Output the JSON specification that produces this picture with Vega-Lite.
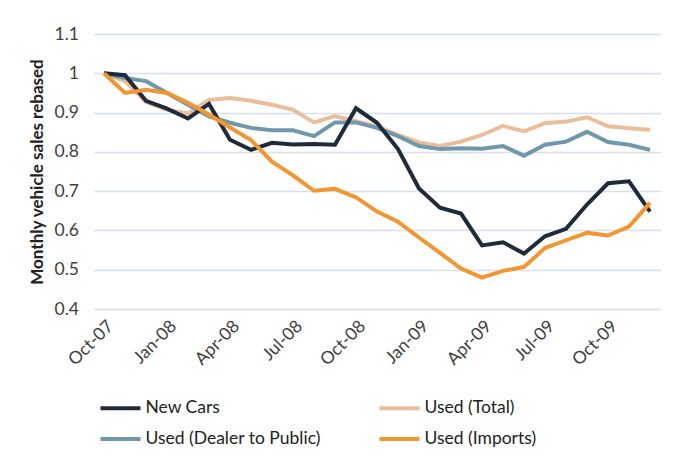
{
  "$schema": "https://vega.github.io/schema/vega-lite/v6.json",
  "width": 567,
  "height": 275,
  "autosize": "none",
  "padding": {"left": 93.5, "top": 34, "right": 16.5, "bottom": 157},
  "background": "white",
  "config": {
    "font": "Lato",
    "view": {"stroke": null}
  },
  "data": {
    "values": [
      {"m":"Oct-07","s":"Used (Total)","v":1.0},{"m":"Nov-07","s":"Used (Total)","v":0.98},{"m":"Dec-07","s":"Used (Total)","v":0.927},{"m":"Jan-08","s":"Used (Total)","v":0.907},{"m":"Feb-08","s":"Used (Total)","v":0.898},{"m":"Mar-08","s":"Used (Total)","v":0.932},{"m":"Apr-08","s":"Used (Total)","v":0.937},{"m":"May-08","s":"Used (Total)","v":0.93},{"m":"Jun-08","s":"Used (Total)","v":0.92},{"m":"Jul-08","s":"Used (Total)","v":0.907},{"m":"Aug-08","s":"Used (Total)","v":0.875},{"m":"Sep-08","s":"Used (Total)","v":0.891},{"m":"Oct-08","s":"Used (Total)","v":0.878},{"m":"Nov-08","s":"Used (Total)","v":0.865},{"m":"Dec-08","s":"Used (Total)","v":0.843},{"m":"Jan-09","s":"Used (Total)","v":0.824},{"m":"Feb-09","s":"Used (Total)","v":0.815},{"m":"Mar-09","s":"Used (Total)","v":0.826},{"m":"Apr-09","s":"Used (Total)","v":0.843},{"m":"May-09","s":"Used (Total)","v":0.866},{"m":"Jun-09","s":"Used (Total)","v":0.852},{"m":"Jul-09","s":"Used (Total)","v":0.873},{"m":"Aug-09","s":"Used (Total)","v":0.877},{"m":"Sep-09","s":"Used (Total)","v":0.888},{"m":"Oct-09","s":"Used (Total)","v":0.865},{"m":"Nov-09","s":"Used (Total)","v":0.86},{"m":"Dec-09","s":"Used (Total)","v":0.856},

      {"m":"Oct-07","s":"Used (Dealer to Public)","v":1.0},{"m":"Nov-07","s":"Used (Dealer to Public)","v":0.988},{"m":"Dec-07","s":"Used (Dealer to Public)","v":0.98},{"m":"Jan-08","s":"Used (Dealer to Public)","v":0.95},{"m":"Feb-08","s":"Used (Dealer to Public)","v":0.92},{"m":"Mar-08","s":"Used (Dealer to Public)","v":0.89},{"m":"Apr-08","s":"Used (Dealer to Public)","v":0.874},{"m":"May-08","s":"Used (Dealer to Public)","v":0.861},{"m":"Jun-08","s":"Used (Dealer to Public)","v":0.855},{"m":"Jul-08","s":"Used (Dealer to Public)","v":0.855},{"m":"Aug-08","s":"Used (Dealer to Public)","v":0.84},{"m":"Sep-08","s":"Used (Dealer to Public)","v":0.875},{"m":"Oct-08","s":"Used (Dealer to Public)","v":0.875},{"m":"Nov-08","s":"Used (Dealer to Public)","v":0.861},{"m":"Dec-08","s":"Used (Dealer to Public)","v":0.84},{"m":"Jan-09","s":"Used (Dealer to Public)","v":0.815},{"m":"Feb-09","s":"Used (Dealer to Public)","v":0.807},{"m":"Mar-09","s":"Used (Dealer to Public)","v":0.809},{"m":"Apr-09","s":"Used (Dealer to Public)","v":0.808},{"m":"May-09","s":"Used (Dealer to Public)","v":0.815},{"m":"Jun-09","s":"Used (Dealer to Public)","v":0.79},{"m":"Jul-09","s":"Used (Dealer to Public)","v":0.818},{"m":"Aug-09","s":"Used (Dealer to Public)","v":0.826},{"m":"Sep-09","s":"Used (Dealer to Public)","v":0.851},{"m":"Oct-09","s":"Used (Dealer to Public)","v":0.825},{"m":"Nov-09","s":"Used (Dealer to Public)","v":0.818},{"m":"Dec-09","s":"Used (Dealer to Public)","v":0.805},

      {"m":"Oct-07","s":"New Cars","v":1.0},{"m":"Nov-07","s":"New Cars","v":0.995},{"m":"Dec-07","s":"New Cars","v":0.93},{"m":"Jan-08","s":"New Cars","v":0.91},{"m":"Feb-08","s":"New Cars","v":0.885},{"m":"Mar-08","s":"New Cars","v":0.922},{"m":"Apr-08","s":"New Cars","v":0.831},{"m":"May-08","s":"New Cars","v":0.805},{"m":"Jun-08","s":"New Cars","v":0.823},{"m":"Jul-08","s":"New Cars","v":0.819},{"m":"Aug-08","s":"New Cars","v":0.82},{"m":"Sep-08","s":"New Cars","v":0.818},{"m":"Oct-08","s":"New Cars","v":0.911},{"m":"Nov-08","s":"New Cars","v":0.874},{"m":"Dec-08","s":"New Cars","v":0.807},{"m":"Jan-09","s":"New Cars","v":0.707},{"m":"Feb-09","s":"New Cars","v":0.658},{"m":"Mar-09","s":"New Cars","v":0.643},{"m":"Apr-09","s":"New Cars","v":0.562},{"m":"May-09","s":"New Cars","v":0.57},{"m":"Jun-09","s":"New Cars","v":0.541},{"m":"Jul-09","s":"New Cars","v":0.585},{"m":"Aug-09","s":"New Cars","v":0.604},{"m":"Sep-09","s":"New Cars","v":0.666},{"m":"Oct-09","s":"New Cars","v":0.72},{"m":"Nov-09","s":"New Cars","v":0.725},{"m":"Dec-09","s":"New Cars","v":0.648},

      {"m":"Oct-07","s":"Used (Imports)","v":1.0},{"m":"Nov-07","s":"Used (Imports)","v":0.95},{"m":"Dec-07","s":"Used (Imports)","v":0.958},{"m":"Jan-08","s":"Used (Imports)","v":0.95},{"m":"Feb-08","s":"Used (Imports)","v":0.925},{"m":"Mar-08","s":"Used (Imports)","v":0.895},{"m":"Apr-08","s":"Used (Imports)","v":0.862},{"m":"May-08","s":"Used (Imports)","v":0.83},{"m":"Jun-08","s":"Used (Imports)","v":0.775},{"m":"Jul-08","s":"Used (Imports)","v":0.74},{"m":"Aug-08","s":"Used (Imports)","v":0.701},{"m":"Sep-08","s":"Used (Imports)","v":0.706},{"m":"Oct-08","s":"Used (Imports)","v":0.684},{"m":"Nov-08","s":"Used (Imports)","v":0.648},{"m":"Dec-08","s":"Used (Imports)","v":0.622},{"m":"Jan-09","s":"Used (Imports)","v":0.582},{"m":"Feb-09","s":"Used (Imports)","v":0.543},{"m":"Mar-09","s":"Used (Imports)","v":0.503},{"m":"Apr-09","s":"Used (Imports)","v":0.48},{"m":"May-09","s":"Used (Imports)","v":0.497},{"m":"Jun-09","s":"Used (Imports)","v":0.507},{"m":"Jul-09","s":"Used (Imports)","v":0.555},{"m":"Aug-09","s":"Used (Imports)","v":0.575},{"m":"Sep-09","s":"Used (Imports)","v":0.594},{"m":"Oct-09","s":"Used (Imports)","v":0.587},{"m":"Nov-09","s":"Used (Imports)","v":0.61},{"m":"Dec-09","s":"Used (Imports)","v":0.67}
    ]
  },
  "mark": {"type": "line", "strokeWidth": 4, "strokeJoin": "miter"},
  "encoding": {
    "x": {
      "field": "m",
      "type": "ordinal",
      "sort": null,
      "scale": {"type": "point", "padding": 0.5},
      "axis": {
        "title": null,
        "values": ["Oct-07","Jan-08","Apr-08","Jul-08","Oct-08","Jan-09","Apr-09","Jul-09","Oct-09"],
        "labelAngle": -45,
        "labelFontSize": 17.5,
        "labelColor": "#404040",
        "labelPadding": 8,
        "domain": false,
        "ticks": false,
        "grid": false
      }
    },
    "y": {
      "field": "v",
      "type": "quantitative",
      "scale": {"domain": [0.4, 1.1], "nice": false, "zero": false},
      "axis": {
        "title": "Monthly vehicle sales rebased",
        "titleFontSize": 17,
        "titleFontWeight": "bold",
        "titleColor": "#222222",
        "titlePadding": 8,
        "values": [0.4, 0.5, 0.6, 0.7, 0.8, 0.9, 1.0, 1.1],
        "labelExpr": "format(datum.value, '.1~f')",
        "labelFontSize": 17.5,
        "labelColor": "#404040",
        "labelPadding": 15,
        "domain": false,
        "ticks": false,
        "grid": true,
        "gridColor": "#D8E1EB",
        "gridWidth": 1.5
      }
    },
    "color": {
      "field": "s",
      "type": "nominal",
      "sort": null,
      "scale": {
        "domain": ["New Cars", "Used (Total)", "Used (Dealer to Public)", "Used (Imports)"],
        "range": ["#1F2B3A", "#EBBE9B", "#6F98AC", "#F39530"]
      },
      "legend": {
        "title": null,
        "orient": "none",
        "legendX": 5,
        "legendY": 352,
        "direction": "horizontal",
        "columns": 2,
        "columnPadding": 50,
        "rowPadding": -9,
        "symbolType": "stroke",
        "symbolSize": 1600,
        "symbolStrokeWidth": 4,
        "labelFontSize": 17.5,
        "labelColor": "#222222",
        "labelOffset": 3,
        "labelLimit": 300
      }
    }
  }
}
